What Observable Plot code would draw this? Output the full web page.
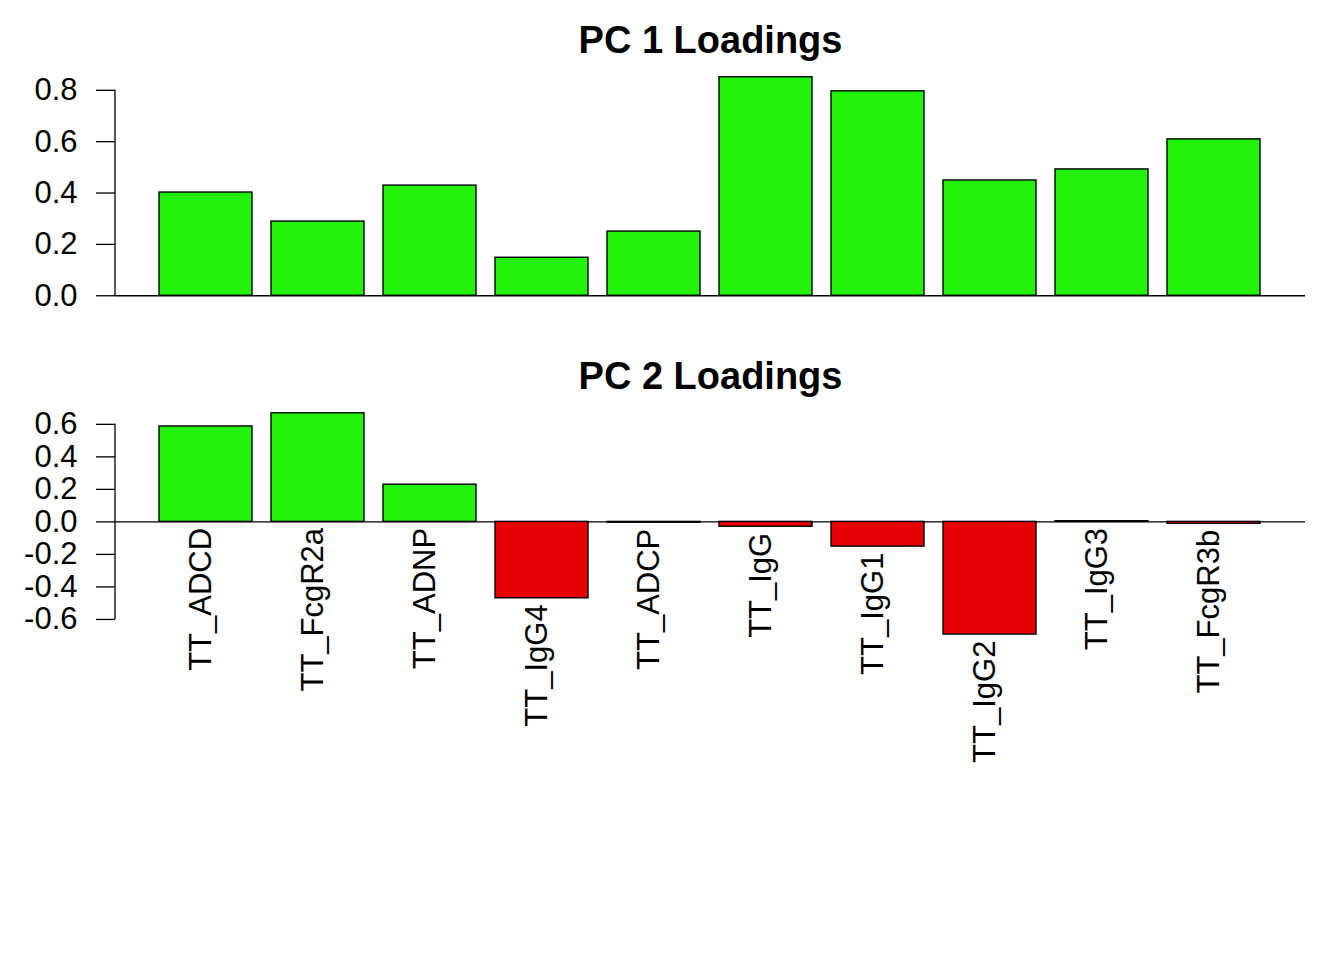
<!DOCTYPE html>
<html>
<head>
<meta charset="utf-8">
<script src="https://cdn.jsdelivr.net/npm/d3@7"></script>
<script src="https://cdn.jsdelivr.net/npm/@observablehq/plot@0.6"></script>
<style>
  body { margin: 0; background: #fff; }
  #wrap { position: relative; width: 1344px; height: 960px; }
  #wrap > div { position: absolute; left: 0; }
  svg { font-family: "Liberation Sans", Arial, sans-serif; }
</style>
</head>
<body>
<div id="wrap"><div id="p1" style="top:0"></div><div id="p2" style="top:330px"></div></div>
<script>
const names = ["TT_ADCD","TT_FcgR2a","TT_ADNP","TT_IgG4","TT_ADCP","TT_IgG","TT_IgG1","TT_IgG2","TT_IgG3","TT_FcgR3b"];
const pc1 = [0.402, 0.289, 0.429, 0.148, 0.250, 0.851, 0.796, 0.449, 0.492, 0.609];
const pc2 = [0.587, 0.668, 0.229, -0.470, -0.005, -0.030, -0.152, -0.693, 0.004, -0.012];
const pc1Ticks = [0, 0.2, 0.4, 0.6, 0.8];
const pc2Ticks = [-0.6, -0.4, -0.2, 0, 0.2, 0.4, 0.6];
const GREEN = "#22f209", RED = "#e60005";
const FONT = "'Liberation Sans', Arial, sans-serif";
const fmt = d => d3.format(".1f")(d).replace("−", "-");

// y-axis line spanning only the tick range (like R's axis())
function axisLine(ticks) {
  return (index, scales, values, dimensions) => {
    const g = d3.create("svg:g");
    g.append("line")
      .attr("x1", dimensions.marginLeft).attr("x2", dimensions.marginLeft)
      .attr("y1", scales.y(d3.min(ticks))).attr("y2", scales.y(d3.max(ticks)))
      .attr("stroke", "#000").attr("stroke-width", 1.3);
    return g.node();
  };
}

function panel({values, ticks, title, height, marginTop, marginBottom, yDomain, labels}) {
  const data = names.map((n, i) => ({name: n, value: values[i]}));
  const marks = [
    Plot.ruleY([0], {stroke: "#000", strokeWidth: 1.3}),
    Plot.barY(data, {x: "name", y: "value", fill: d => d.value >= 0 ? GREEN : RED, stroke: "#000", strokeWidth: 1.4}),
    Plot.axisY({ticks, tickFormat: fmt, tickSize: 19, tickPadding: 19, label: null, fontSize: 31, strokeWidth: 1.3, strokeOpacity: 1}),
    axisLine(ticks),
    Plot.text([title], {frameAnchor: "top", lineAnchor: "middle", dy: -28, fontSize: 38, fontWeight: "bold", fill: "#000"})
  ];
  if (labels) {
    // labels hang below the bar end for negative bars, below the zero line otherwise
    marks.push(Plot.text(data, {x: "name", y: d => Math.min(0, d.value), text: "name", rotate: -90, textAnchor: "end", dx: -5, dy: 6, fontSize: 31, fill: "#000"}));
  }
  return Plot.plot({
    width: 1344, height,
    marginLeft: 115, marginRight: 39, marginTop, marginBottom,
    style: {fontFamily: FONT, fontSize: "31px", color: "#000", background: "transparent"},
    x: {type: "band", domain: names, paddingInner: 1/6, paddingOuter: 0.393, axis: null},
    y: {domain: yDomain, axis: null},
    marks
  });
}

document.getElementById("p1").appendChild(panel({
  values: pc1, ticks: pc1Ticks, title: "PC 1 Loadings",
  height: 330, marginTop: 68, marginBottom: 26, yDomain: [-0.034, 0.885], labels: false
}));
document.getElementById("p2").appendChild(panel({
  values: pc2, ticks: pc2Ticks, title: "PC 2 Loadings",
  height: 630, marginTop: 74, marginBottom: 317, yDomain: [-0.748, 0.722], labels: true
}));
</script>
</body>
</html>
